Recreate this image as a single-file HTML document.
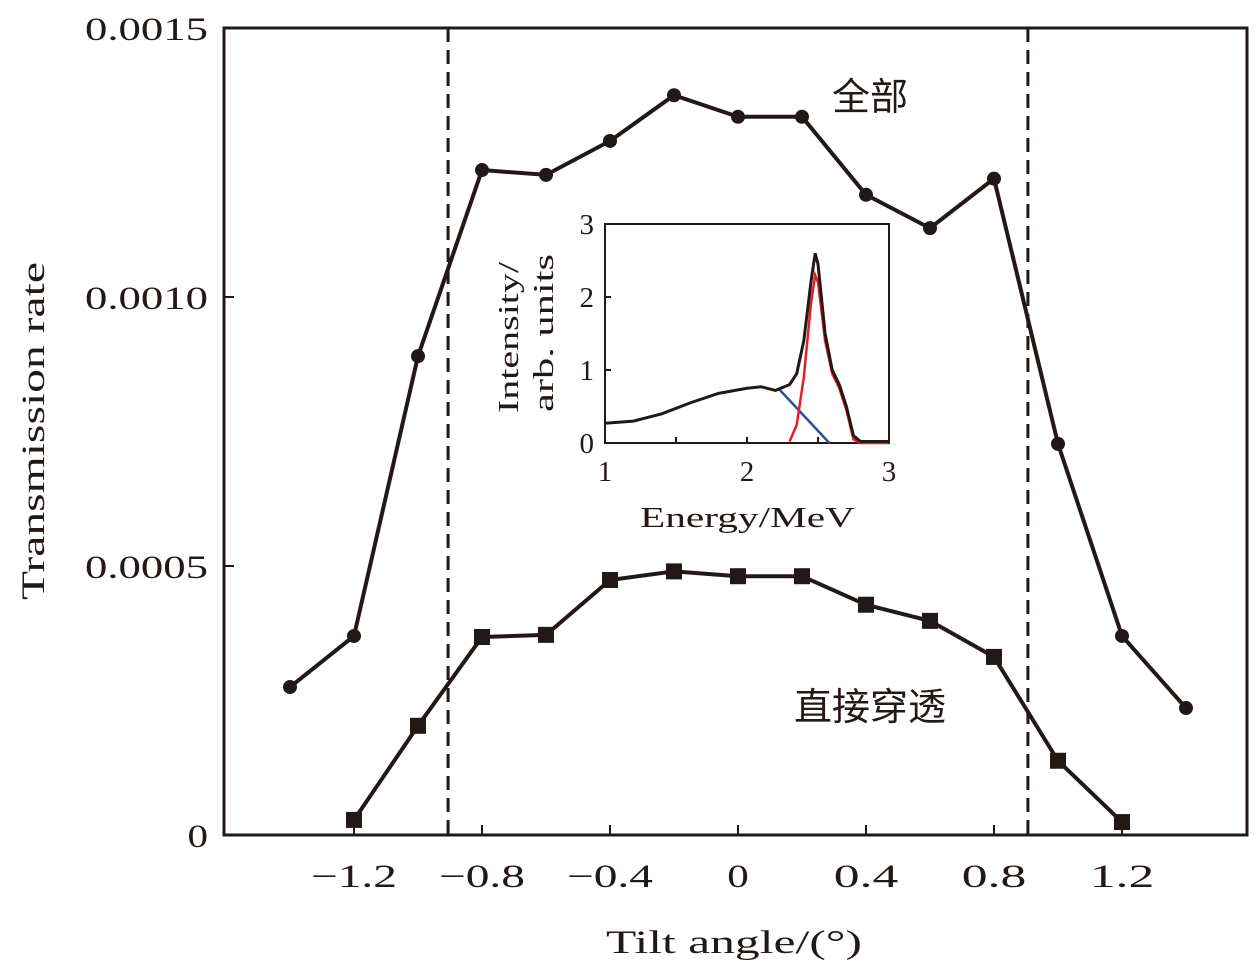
<!DOCTYPE html>
<html><head><meta charset="utf-8"><style>
html,body{margin:0;padding:0;background:#fff;}
svg text{font-family:"Liberation Serif","Noto Serif CJK SC",serif;fill:#231815;}
.cjk{font-family:"Noto Sans CJK SC","WenQuanYi Zen Hei",sans-serif;}
</style></head><body>
<svg id="c" width="1260" height="969" xmlns="http://www.w3.org/2000/svg">
<rect x="224" y="28" width="1023" height="807" fill="none" stroke="#231815" stroke-width="3"/>
<g id="axes"></g>
<g id="main"></g>
<text x="870" y="110" font-size="38" class="cjk" text-anchor="middle">全部</text>
<text x="870" y="720" font-size="38" class="cjk" text-anchor="middle">直接穿透</text>
<text x="606" y="953" font-size="33" textLength="256" lengthAdjust="spacingAndGlyphs">Tilt angle/(°)</text>
<text transform="translate(44,600) rotate(-90)" font-size="33" textLength="338" lengthAdjust="spacingAndGlyphs">Transmission rate</text>
<rect x="605" y="224" width="284" height="219" fill="#fff" stroke="#231815" stroke-width="2"/>
<g id="inset"></g>
<text x="640" y="527" font-size="29" textLength="215" lengthAdjust="spacingAndGlyphs">Energy/MeV</text>
<text transform="translate(518,413) rotate(-90)" font-size="29" textLength="151" lengthAdjust="spacingAndGlyphs">Intensity/</text>
<text transform="translate(553,412) rotate(-90)" font-size="29" textLength="158" lengthAdjust="spacingAndGlyphs">arb. units</text>
</svg>
<script>
const angles=[-1.4,-1.2,-1.0,-0.8,-0.6,-0.4,-0.2,0,0.2,0.4,0.6,0.8,1.0,1.2,1.4];
const totalVals=[0.000275,0.00037,0.00089,0.001236,0.001227,0.00129,0.001375,0.001335,0.001335,0.00119,0.001128,0.00122,0.000727,0.00037,0.000236];
const directAngles=[-1.2,-1.0,-0.8,-0.6,-0.4,-0.2,0,0.2,0.4,0.6,0.8,1.0,1.2];
const directVals=[0.000028,0.000203,0.000368,0.000372,0.000474,0.00049,0.000481,0.000481,0.000428,0.000398,0.000331,0.000138,0.000024];
const xTicks=[-1.2,-0.8,-0.4,0,0.4,0.8,1.2];
const xTickLabels=["−1.2","−0.8","−0.4","0","0.4","0.8","1.2"];
const yTicks=[0,0.0005,0.0010,0.0015];
const yTickLabels=["0","0.0005","0.0010","0.0015"];
const dashedX=[-0.906,0.906];
const specE=[1.0,1.2,1.4,1.6,1.8,2.0,2.1,2.2,2.3,2.35,2.4,2.45,2.48,2.5,2.55,2.6,2.65,2.7,2.75,2.8,3.0];
const specI=[0.27,0.3,0.4,0.55,0.68,0.75,0.77,0.72,0.8,0.95,1.4,2.2,2.6,2.45,1.5,1.0,0.8,0.5,0.1,0.02,0.02];
const redE=[2.3,2.35,2.4,2.45,2.48,2.5,2.55,2.6,2.65,2.7,2.75,2.8,3.0];
const redI=[0.02,0.25,0.9,1.9,2.3,2.2,1.4,0.95,0.75,0.45,0.05,0,0];
const blueE=[2.22,2.58];
const blueI=[0.75,0];
const insetXTicks=[1,2,3];
const insetYTicks=[0,1,2,3];
const NS="http://www.w3.org/2000/svg";
const X=v=>738+v*320, Y=v=>835-v/0.0015*807;
const IX=v=>605+(v-1)/2*284, IY=v=>443-v/3*219;
function mk(tag,attrs,parent){const e=document.createElementNS(NS,tag);for(const k in attrs)e.setAttribute(k,attrs[k]);parent.appendChild(e);return e;}
const ax=document.getElementById('axes'),mn=document.getElementById('main'),ins=document.getElementById('inset');
xTicks.forEach((t,i)=>{let l=mk('line',{x1:X(t),x2:X(t),y1:835,y2:825,stroke:'#231815','stroke-width':2},ax);

const s=xTickLabels[i];
let tx=mk('text',{x:X(t),y:887,'font-size':33,'text-anchor':'middle',textLength:21.5*s.length,lengthAdjust:'spacingAndGlyphs'},ax);tx.textContent=s;
});
yTicks.forEach((t,i)=>{let l=mk('line',{x1:224,x2:234,y1:Y(t),y2:Y(t),stroke:'#231815','stroke-width':2},ax);

const s=yTickLabels[i];
let tx=mk('text',{x:208,y:Y(t)+12,'font-size':33,'text-anchor':'end',textLength:20.5*s.length,lengthAdjust:'spacingAndGlyphs'},ax);tx.textContent=s;
});
dashedX.forEach(d=>{let l=mk('line',{x1:X(d),x2:X(d),y1:28,y2:835,stroke:'#231815','stroke-width':3,'stroke-dasharray':'14,8'},mn);
});
let p1=mk('polyline',{points:angles.map((a,i)=>X(a)+','+Y(totalVals[i])).join(' '),fill:'none',stroke:'#231815','stroke-width':4},mn);

angles.forEach((a,i)=>{let c=mk('circle',{cx:X(a),cy:Y(totalVals[i]),r:7,fill:'#231815'},mn);
});
let p2=mk('polyline',{points:directAngles.map((a,i)=>X(a)+','+Y(directVals[i])).join(' '),fill:'none',stroke:'#231815','stroke-width':4},mn);

directAngles.forEach((a,i)=>{let r=mk('rect',{x:X(a)-8,y:Y(directVals[i])-8,width:16,height:16,fill:'#231815'},mn);
});
insetXTicks.forEach(t=>{let tx=mk('text',{x:IX(t),y:481,'font-size':29,'text-anchor':'middle'},ins);tx.textContent=t;
});
[1.5,2,2.5].forEach(t=>{let l=mk('line',{x1:IX(t),x2:IX(t),y1:443,y2:437,stroke:'#231815','stroke-width':2},ins);
});
insetYTicks.forEach(t=>{let tx=mk('text',{x:594,y:IY(t)+10,'font-size':29,'text-anchor':'end'},ins);tx.textContent=t;

let l=mk('line',{x1:605,x2:611,y1:IY(t),y2:IY(t),stroke:'#231815','stroke-width':2},ins);
});
let bs=mk('polyline',{points:blueE.map((e,i)=>IX(e)+','+IY(blueI[i])).join(' '),fill:'none',stroke:'#2a4f9a','stroke-width':2.5},ins);

let rs=mk('polyline',{points:redE.map((e,i)=>IX(e)+','+IY(redI[i])).join(' '),fill:'none',stroke:'#e0202a','stroke-width':2.5},ins);

let ks=mk('polyline',{points:specE.map((e,i)=>IX(e)+','+IY(specI[i])).join(' '),fill:'none',stroke:'#231815','stroke-width':3},ins);

</script>
</body></html>
